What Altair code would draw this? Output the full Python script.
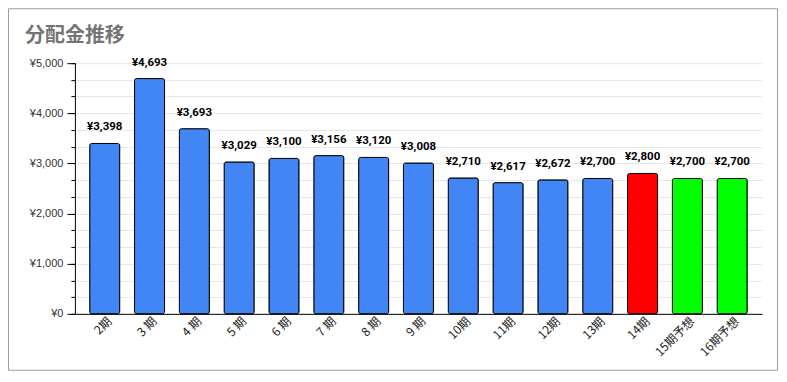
import altair as alt
import pandas as pd

categories = ["2期", "3 期", "4 期", "5 期", "6 期", "7 期", "8 期", "9 期",
              "10期", "11期", "12期", "13期", "14期", "15期予想", "16期予想"]
values = [3398, 4693, 3693, 3029, 3100, 3156, 3120, 3008,
          2710, 2617, 2672, 2700, 2800, 2700, 2700]
colors = ["#4285F4"] * 12 + ["#FF0000", "#00FF00", "#00FF00"]
major_ticks = [0, 1000, 2000, 3000, 4000, 5000]
minor_ticks = [i * 1000 / 3 for i in range(16)]
title_text = "分配金推移"

df = pd.DataFrame({"cat": categories, "value": values, "color": colors})

W, H = 688, 251
PL, PT, PR, PB = 67, 55, 17, 58

x_enc = alt.X("cat:N", sort=None,
              scale=alt.Scale(paddingInner=0.33, paddingOuter=0.33),
              axis=alt.Axis(title=None, labelAngle=-45, labelAlign="right",
                            labelBaseline="middle", labelPadding=5,
                            labelOffset=5,
                            labelFont="Noto Sans CJK JP", labelFontSize=12,
                            labelColor="#222222", ticks=False,
                            domainColor="#000000", labelOverlap=False))
y_scale = alt.Scale(domain=[0, 5000], nice=False)

minor = alt.Chart(df).mark_bar(opacity=0).encode(
    x=x_enc,
    y=alt.Y("value:Q", scale=y_scale,
            axis=alt.Axis(title=None, values=minor_ticks, labels=False,
                          domain=False, tickSize=4, tickColor="#000000",
                          gridColor="#e6e6e6", orient="left")),
)

bars = alt.Chart(df).mark_bar(stroke="#000000", strokeWidth=1,
                              cornerRadius=2).encode(
    x=x_enc,
    y=alt.Y("value:Q", scale=y_scale,
            axis=alt.Axis(title=None, values=major_ticks,
                          labelExpr="'¥' + format(datum.value, ',')",
                          labelFont="Liberation Sans", labelFontSize=11,
                          labelColor="#333333", tickSize=8,
                          tickColor="#000000", domainColor="#000000",
                          gridColor="#cccccc", orient="left", labelPadding=4)),
    color=alt.Color("color:N", scale=None),
)

text = alt.Chart(df).transform_calculate(
    label="'¥' + format(datum.value, ',')"
).mark_text(dy=-13, baseline="alphabetic", font="Roboto", fontWeight="bold",
            fontSize=11.5, color="#000000").encode(
    x=x_enc,
    y=alt.Y("value:Q", scale=y_scale, axis=None),
    text="label:N",
)

deco = pd.DataFrame({"t": [title_text]})

border = alt.Chart(deco).mark_rect(
    fill=None, stroke="#9e9e9e", strokeWidth=1).encode(
    x=alt.value(-PL + 0.5), x2=alt.value(W + PR - 1.5),
    y=alt.value(-PT + 0.5), y2=alt.value(H + PB - 1.5),
)

title = alt.Chart(deco).mark_text(
    align="left", baseline="alphabetic", font="Noto Sans CJK JP",
    fontSize=20, fontWeight="bold", color="#757575").encode(
    x=alt.value(-50), y=alt.value(-21), text="t:N",
)

chart = alt.layer(minor, bars, text, border, title).resolve_axis(
    y="independent"
).properties(
    width=W, height=H,
    padding={"left": PL, "top": PT, "right": PR, "bottom": PB},
    autosize=alt.AutoSizeParams(type="none"),
    background="#ffffff",
).configure_view(stroke=None)

chart.save("out.html", embed_options={"renderer": "svg", "actions": False})
